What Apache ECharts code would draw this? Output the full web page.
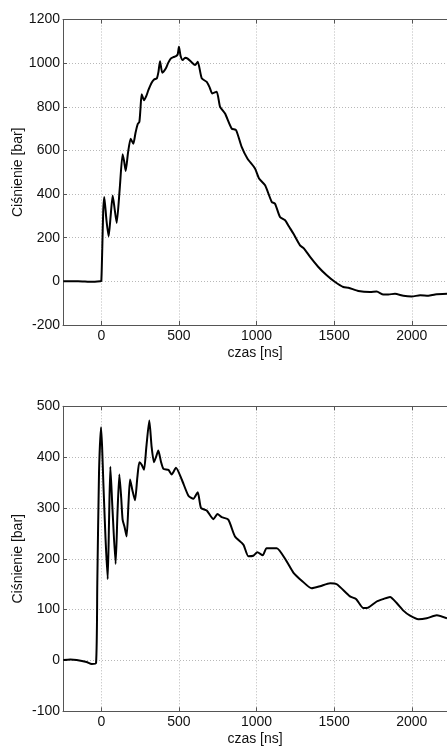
<!DOCTYPE html>
<html>
<head>
<meta charset="utf-8">
<script src="https://cdn.jsdelivr.net/npm/echarts@6/dist/echarts.min.js"></script>
<style>
  html, body { margin: 0; padding: 0; background: #fff; }
  #chart { width: 447px; height: 746px; }
</style>
</head>
<body>
<div id="chart"></div>
<script>
// top panel: czas [ns], cisnienie [bar]
var czas1 = [-245, -150, -60, -5, 0, 6, 12, 19, 33, 47, 60, 73, 86, 99, 118, 137, 147, 157, 172, 189, 206, 220, 234, 245, 252, 260, 275, 290, 303, 324, 340, 357, 368, 378, 393, 415, 430, 447, 465, 481, 492, 500, 510, 524, 540, 556, 580, 604, 621, 647, 679, 697, 715, 743, 765, 797, 840, 868, 904, 941, 990, 1016, 1055, 1098, 1119, 1151, 1184, 1210, 1237, 1280, 1306, 1345, 1398, 1452, 1506, 1559, 1592, 1656, 1731, 1774, 1817, 1849, 1892, 1946, 2000, 2054, 2107, 2150, 2227];
var p1 = [0, 1, -2, 1, 2, 150, 320, 387, 280, 206, 300, 394, 330, 268, 420, 583, 550, 506, 590, 654, 631, 680, 720, 731, 790, 858, 830, 850, 876, 910, 925, 930, 960, 1009, 956, 975, 1000, 1021, 1028, 1032, 1040, 1075, 1035, 1014, 1025, 1021, 1005, 991, 1006, 930, 914, 890, 861, 869, 800, 769, 700, 693, 616, 563, 517, 471, 440, 364, 356, 295, 280, 250, 219, 165, 150, 112, 66, 28, -3, -26, -29, -44, -49, -47, -60, -60, -57, -66, -69, -64, -66, -60, -57];

// bottom panel
var czas2 = [-245, -200, -159, -95, -62, -34, -26, -15, -2, 5, 13, 27, 41, 50, 58, 71, 92, 104, 116, 128, 137, 150, 163, 175, 185, 200, 217, 232, 245, 260, 275, 290, 309, 324, 339, 352, 367, 385, 400, 432, 453, 481, 518, 561, 593, 621, 642, 679, 722, 748, 775, 818, 861, 915, 947, 979, 1005, 1040, 1065, 1130, 1194, 1237, 1291, 1355, 1409, 1474, 1517, 1602, 1641, 1688, 1720, 1774, 1817, 1860, 1903, 1946, 1989, 2043, 2096, 2161, 2227];
var p2 = [1, 2, 1, -3, -7, -5, 152, 369, 459, 420, 349, 240, 160, 280, 381, 303, 190, 290, 366, 320, 277, 262, 244, 310, 356, 335, 315, 360, 390, 385, 375, 420, 472, 420, 390, 400, 413, 390, 377, 375, 366, 379, 356, 324, 318, 331, 300, 295, 278, 288, 282, 277, 244, 228, 205, 206, 213, 207, 221, 221, 195, 173, 157, 142, 146, 152, 150, 126, 121, 103, 104, 116, 121, 125, 113, 98, 88, 81, 83, 89, 83];

var xMin = -247, xMax = 2227;

var font = 'Liberation Sans, Arial, sans-serif';
var axisCol = '#555';
var gridLine = { show: true, lineStyle: { color: '#b8b8b8', type: [1, 2], width: 1 } };

function toPairs(xs, ys) {
    var out = [];
    for (var i = 0; i < xs.length; i++) out.push([xs[i], ys[i]]);
    return out;
}

function plain(v) { return String(v); }

function xAxisFor(idx, pos) {
    var bottom = pos === 'bottom';
    return {
        type: 'value', gridIndex: idx, position: pos,
        min: xMin, max: xMax, splitNumber: 5,
        name: bottom ? 'czas [ns]' : '',
        nameLocation: 'middle', nameGap: 21, nameMoveOverlap: false,
        nameTextStyle: { color: '#111', fontSize: 14, fontFamily: font },
        axisLine: { show: true, onZero: false, lineStyle: { color: axisCol, width: 1 } },
        axisTick: { show: true, inside: true, length: 4, lineStyle: { color: axisCol } },
        axisLabel: { show: bottom, color: '#111', fontSize: 14, fontFamily: font, margin: 4,
                     formatter: plain, showMinLabel: false, showMaxLabel: false },
        splitLine: bottom ? gridLine : { show: false }
    };
}

function yAxisFor(idx, mn, mx, step) {
    return {
        type: 'value', gridIndex: idx, min: mn, max: mx, interval: step,
        name: 'Ciśnienie [bar]', nameLocation: 'middle', nameGap: 38, nameMoveOverlap: false,
        nameTextStyle: { color: '#111', fontSize: 14, fontFamily: font },
        axisLine: { show: true, onZero: false, lineStyle: { color: axisCol, width: 1 } },
        axisTick: { show: true, inside: true, length: 4, lineStyle: { color: axisCol } },
        axisLabel: { color: '#111', fontSize: 14, fontFamily: font, margin: 3, formatter: plain },
        splitLine: gridLine
    };
}

var myChart = echarts.init(document.getElementById('chart'));
var option = {
    backgroundColor: '#fff',
    animation: false,
    grid: [
        { left: 63, right: 0, top: 19.5, height: 305.5, containLabel: false, outerBoundsMode: 'none' },
        { left: 63, right: 0, top: 406.3, height: 305, containLabel: false, outerBoundsMode: 'none' }
    ],
    xAxis: [
        xAxisFor(0, 'bottom'),
        xAxisFor(0, 'top'),
        xAxisFor(1, 'bottom'),
        xAxisFor(1, 'top')
    ],
    yAxis: [
        yAxisFor(0, -200, 1200, 200),
        yAxisFor(1, -100, 500, 100)
    ],
    series: [
        {
            type: 'line', xAxisIndex: 0, yAxisIndex: 0,
            data: toPairs(czas1, p1),
            showSymbol: false, smooth: 0.2,
            lineStyle: { color: '#000', width: 2 }
        },
        {
            type: 'line', xAxisIndex: 2, yAxisIndex: 1,
            data: toPairs(czas2, p2),
            showSymbol: false, smooth: 0.2,
            lineStyle: { color: '#000', width: 2 }
        }
    ]
};
myChart.setOption(option);
</script>
</body>
</html>
